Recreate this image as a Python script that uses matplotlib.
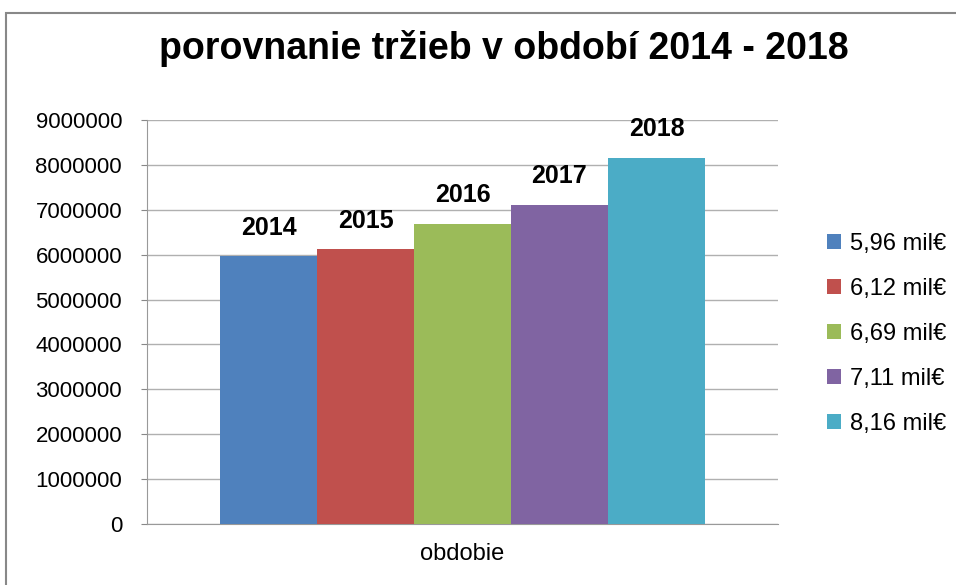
import matplotlib.pyplot as plt
from matplotlib.patches import Rectangle

years = ["2014", "2015", "2016", "2017", "2018"]
revenue = [5960000, 6120000, 6690000, 7110000, 8160000]
legend_labels = ["5,96 mil€", "6,12 mil€", "6,69 mil€", "7,11 mil€", "8,16 mil€"]
colors = ["#4f81bd", "#c0504d", "#9bbb59", "#8064a2", "#4bacc6"]
category = "obdobie"

plt.rcParams["font.family"] = ["Liberation Sans", "DejaVu Sans"]

fig = plt.figure(figsize=(9.56, 5.85), dpi=100)
ax = fig.add_axes([0.1538, 0.1043, 0.66, 0.6906])

width = 0.1537
n = len(years)
for i, (yr, val, lab, c) in enumerate(zip(years, revenue, legend_labels, colors)):
    x = (i - (n - 1) / 2) * width
    ax.bar(x, val, width=width, color=c, label=lab, zorder=3)
    ax.annotate(yr, (x, val), xytext=(0, 12), textcoords="offset points",
                ha="center", va="bottom", fontsize=18, fontweight="bold")

ax.set_xlim(-0.5, 0.5)
ax.set_ylim(0, 9000000)
ax.set_yticks(range(0, 9000001, 1000000))
ax.set_yticklabels([str(v) for v in range(0, 9000001, 1000000)], fontsize=16)
ax.set_xticks([0])
ax.set_xticklabels([category], fontsize=17)
ax.tick_params(axis="x", length=0, pad=14)
ax.tick_params(axis="y", length=4, color="#888888", pad=14)
ax.yaxis.grid(True, color="#b0b0b0", linewidth=1, zorder=0)
for s in ["top", "right"]:
    ax.spines[s].set_visible(False)
for s in ["left", "bottom"]:
    ax.spines[s].set_color("#999999")

fig.suptitle("porovnanie tržieb v období 2014 - 2018", x=0.527, y=0.948,
             fontsize=27, fontweight="bold")

ax.legend(loc="center left", bbox_to_anchor=(0.843, 0.429), bbox_transform=fig.transFigure,
          frameon=False, fontsize=17, handlelength=0.6, handleheight=0.6,
          handletextpad=0.35, labelspacing=0.98)

fig.patches.append(Rectangle((0.0063, -0.05), 1.1, 0.028 + 1.0, transform=fig.transFigure,
                             fill=False, edgecolor="#888888", linewidth=1.5))

fig.savefig("out.png", dpi=100)
